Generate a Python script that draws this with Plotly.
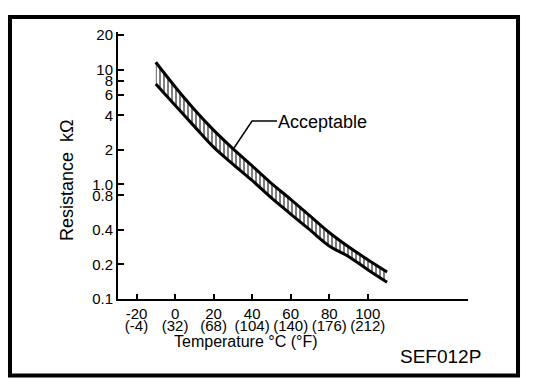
import plotly.graph_objects as go

# Temperature (deg C) along the acceptable band
temps = [-10, 0, 10, 20, 30, 40, 50, 60, 70, 80, 90, 100, 110]
# Upper and lower limits of the acceptable resistance band (kOhm)
upper_kohm = [11.6, 7.1, 4.5, 2.97, 2.05, 1.45, 1.02, 0.74, 0.53, 0.38, 0.285, 0.22, 0.172]
lower_kohm = [7.5, 4.9, 3.2, 2.11, 1.5, 1.08, 0.76, 0.55, 0.40, 0.29, 0.235, 0.18, 0.14]

x_ticks_c = [-20, 0, 20, 40, 60, 80, 100]
x_ticks_f = ["(-4)", "(32)", "(68)", "(104)", "(140)", "(176)", "(212)"]
y_ticks = [0.1, 0.2, 0.4, 0.8, 1, 2, 4, 6, 8, 10, 20]
y_tick_text = ["0.1", "0.2", "0.4", "0.8", "1.0", "2", "4", "6", "8", "10", "20"]

FONT = "Liberation Sans, Arial, Helvetica, sans-serif"

fig = go.Figure()
fig.add_trace(go.Scatter(
    x=temps, y=lower_kohm, mode="lines", line_shape="spline",
    line=dict(color="black", width=3), showlegend=False, hoverinfo="skip"))
fig.add_trace(go.Scatter(
    x=temps, y=upper_kohm, mode="lines", line_shape="spline",
    line=dict(color="black", width=3), showlegend=False, hoverinfo="skip",
    fill="tonexty", fillcolor="white",
    fillpattern=dict(shape="|", size=4, solidity=0.5, fgcolor="black", bgcolor="white")))
# invisible trace so the Fahrenheit label axis is drawn
fig.add_trace(go.Scatter(
    x=[temps[0]], y=[upper_kohm[0]], xaxis="x2", mode="markers",
    marker=dict(opacity=0), showlegend=False, hoverinfo="skip"))

xrange = [-29.6, 152]
fig.update_layout(
    width=560, height=392,
    margin=dict(l=118, r=92, t=32, b=93),
    paper_bgcolor="white", plot_bgcolor="white",
    font=dict(family=FONT, color="black"),
    xaxis=dict(
        range=xrange, tickmode="array", tickvals=x_ticks_c,
        ticktext=[str(v) for v in x_ticks_c], tickangle=0,
        ticks="inside", ticklen=5, tickwidth=1.5, tickcolor="black",
        showline=True, linecolor="black", linewidth=2,
        showgrid=False, zeroline=False,
        tickfont=dict(family=FONT, size=15, color="black"),
    ),
    xaxis2=dict(
        range=xrange, overlaying="x", anchor="y", side="bottom",
        tickmode="array", tickvals=x_ticks_c, ticktext=x_ticks_f, tickangle=0,
        ticks="", showline=False, showgrid=False, zeroline=False,
        ticklabelstandoff=16,
        tickfont=dict(family=FONT, size=15, color="black"),
    ),
    yaxis=dict(
        type="log", range=[-1.0, 1.328], tickmode="array",
        tickvals=y_ticks, ticktext=y_tick_text,
        ticks="inside", ticklen=6, tickwidth=1.5, tickcolor="black",
        showline=True, linecolor="black", linewidth=2,
        showgrid=False, zeroline=False,
        tickfont=dict(family=FONT, size=15, color="black"),
    ),
)

fig.add_annotation(
    text="Resistance\u00a0\u00a0kΩ", textangle=-90, xref="paper", yref="paper",
    x=-0.1457, y=0.4457, xanchor="center", yanchor="middle", showarrow=False,
    font=dict(family=FONT, size=18, color="black"))
fig.add_annotation(
    text="Temperature °C (°F)", xref="paper", yref="paper",
    x=0.366, y=-0.16, xanchor="center", yanchor="middle", showarrow=False,
    font=dict(family=FONT, size=16, color="black"))
fig.add_annotation(
    text="SEF012P", xref="paper", yref="paper",
    x=0.9214, y=-0.2154, xanchor="center", yanchor="middle", showarrow=False,
    font=dict(family=FONT, size=19, color="black"))
fig.add_annotation(
    text="Acceptable", xref="paper", yref="paper",
    x=0.452, y=0.663, xanchor="left", yanchor="middle", showarrow=False,
    font=dict(family=FONT, size=18, color="black"))

# leader line for the "Acceptable" label
fig.add_shape(type="path", xref="paper", yref="paper",
              path="M 0.3314 0.5655 L 0.3829 0.6667 L 0.4543 0.6667",
              line=dict(color="black", width=1.5))
# outer frame
fig.add_shape(type="rect", xref="paper", yref="paper",
              x0=-0.3086, x1=1.1429, y0=-0.2865, y1=1.0562,
              line=dict(color="black", width=4))

fig.write_html("out.html", config={"displayModeBar": False},
               post_script="document.body.style.margin='0';")
